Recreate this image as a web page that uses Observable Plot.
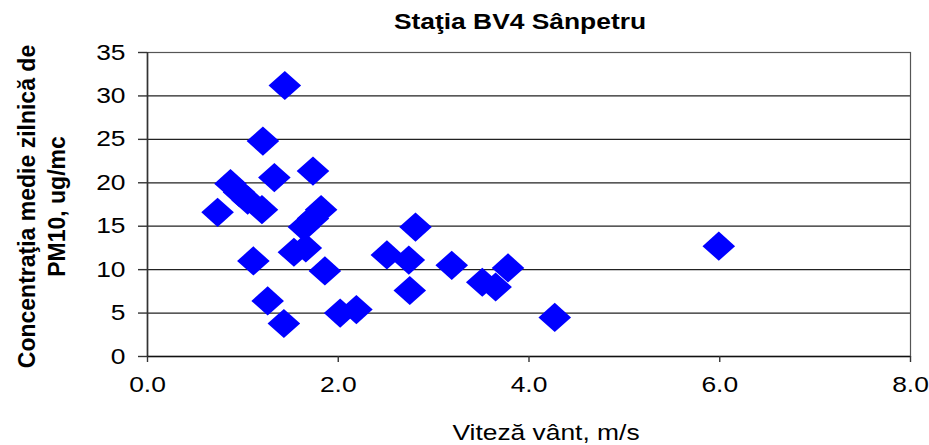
<!DOCTYPE html>
<html>
<head>
<meta charset="utf-8">
<script src="https://cdn.jsdelivr.net/npm/d3@7"></script>
<script src="https://cdn.jsdelivr.net/npm/@observablehq/plot@0.6"></script>
<style>
  html, body { margin: 0; padding: 0; background: #fff; }
</style>
</head>
<body>
<div id="chart"></div>
<script>
// ---- data ----
const windSpeed = [1.44, 1.21, 1.33, 1.735, 0.87, 0.96, 1.05, 1.2, 0.735, 1.82, 1.735, 1.64, 1.535, 1.66, 1.86, 1.11, 1.26, 1.43, 2.02, 2.19, 2.81, 2.51, 2.74, 2.75, 3.19, 3.51, 3.65, 3.78, 4.27, 5.99];
const pm10 = [31.2, 24.8, 20.6, 21.35, 19.9, 18.9, 18.0, 16.9, 16.6, 16.9, 15.9, 14.9, 12.0, 12.5, 9.85, 11.0, 6.4, 3.8, 5.0, 5.4, 14.9, 11.7, 11.1, 7.6, 10.5, 8.55, 8.0, 10.2, 4.5, 12.7];
const xTicks = [0, 2, 4, 6, 8];
const yTicks = [0, 5, 10, 15, 20, 25, 30, 35];
const chartTitle = "Staţia BV4 Sânpetru";
const xLabel = "Viteză vânt, m/s";
const yLabelLines = ["Concentraţia medie zilnică de", "PM10, ug/mc"];

const points = windSpeed.map((x, i) => ({x, y: pm10[i]}));

// wide diamond symbol
const wideDiamond = {
  draw(ctx) {
    const w = 16.3, h = 14.6;
    ctx.moveTo(0, -h);
    ctx.lineTo(w, 0);
    ctx.lineTo(0, h);
    ctx.lineTo(-w, 0);
    ctx.closePath();
  }
};

const font = "'Liberation Sans', Arial, sans-serif";

const chart = Plot.plot({
  width: 929,
  height: 445,
  marginLeft: 147,
  marginRight: 19,
  marginTop: 52,
  marginBottom: 89,
  style: {fontFamily: font, fontSize: "22px", background: "#fff", color: "#000"},
  x: {domain: [0, 8], axis: null},
  y: {domain: [0, 35], axis: null},
  marks: [
    Plot.gridY(yTicks, {stroke: "#222", strokeOpacity: 1, strokeWidth: 1.2}),
    Plot.frame({stroke: "#555", strokeWidth: 1.2}),
    Plot.ruleX([0], {stroke: "#333", strokeWidth: 1.6}),
    Plot.ruleY([0], {stroke: "#111", strokeWidth: 1.6}),
    Plot.axisX({ticks: xTicks, tickFormat: d => d.toFixed(1), label: null, tickSize: 6, tickPadding: 14, fontSize: 22, stroke: "#333", strokeWidth: 1.4}),
    Plot.axisY({ticks: yTicks, label: null, tickSize: 9, tickPadding: 13, fontSize: 22, stroke: "#333", strokeWidth: 1.4}),
    Plot.dot(points, {x: "x", y: "y", symbol: wideDiamond, fill: "#0000ff", stroke: "none", r: 10}),
    Plot.text([chartTitle], {text: d => d, frameAnchor: "top", textAnchor: "middle", lineAnchor: "bottom", dx: -9, dy: -24, fontWeight: "bold", fontSize: 22, fill: "#000"}),
    Plot.text([xLabel], {text: d => d, frameAnchor: "bottom", textAnchor: "middle", lineAnchor: "bottom", dx: 17, dy: 83, fontSize: 22, fill: "#000"}),
    Plot.text([yLabelLines.join("\n")], {text: d => d, frameAnchor: "left", textAnchor: "middle", lineAnchor: "top", rotate: -90, dx: -134, dy: 2, lineHeight: 1.3, fontWeight: "bold", fontSize: 23, fill: "#000"})
  ]
});

document.getElementById("chart").appendChild(chart);

// horizontal stretch of the (non-rotated) text, like the reference export
chart.querySelectorAll("text").forEach(t => {
  const tr = t.getAttribute("transform") || "";
  if (tr.includes("rotate")) return;
  const ax = parseFloat(t.getAttribute("x") || "0") || 0;
  t.setAttribute("transform", `${tr} translate(${ax},0) scale(1.2,1) translate(${-ax},0)`.trim());
});
</script>
</body>
</html>
